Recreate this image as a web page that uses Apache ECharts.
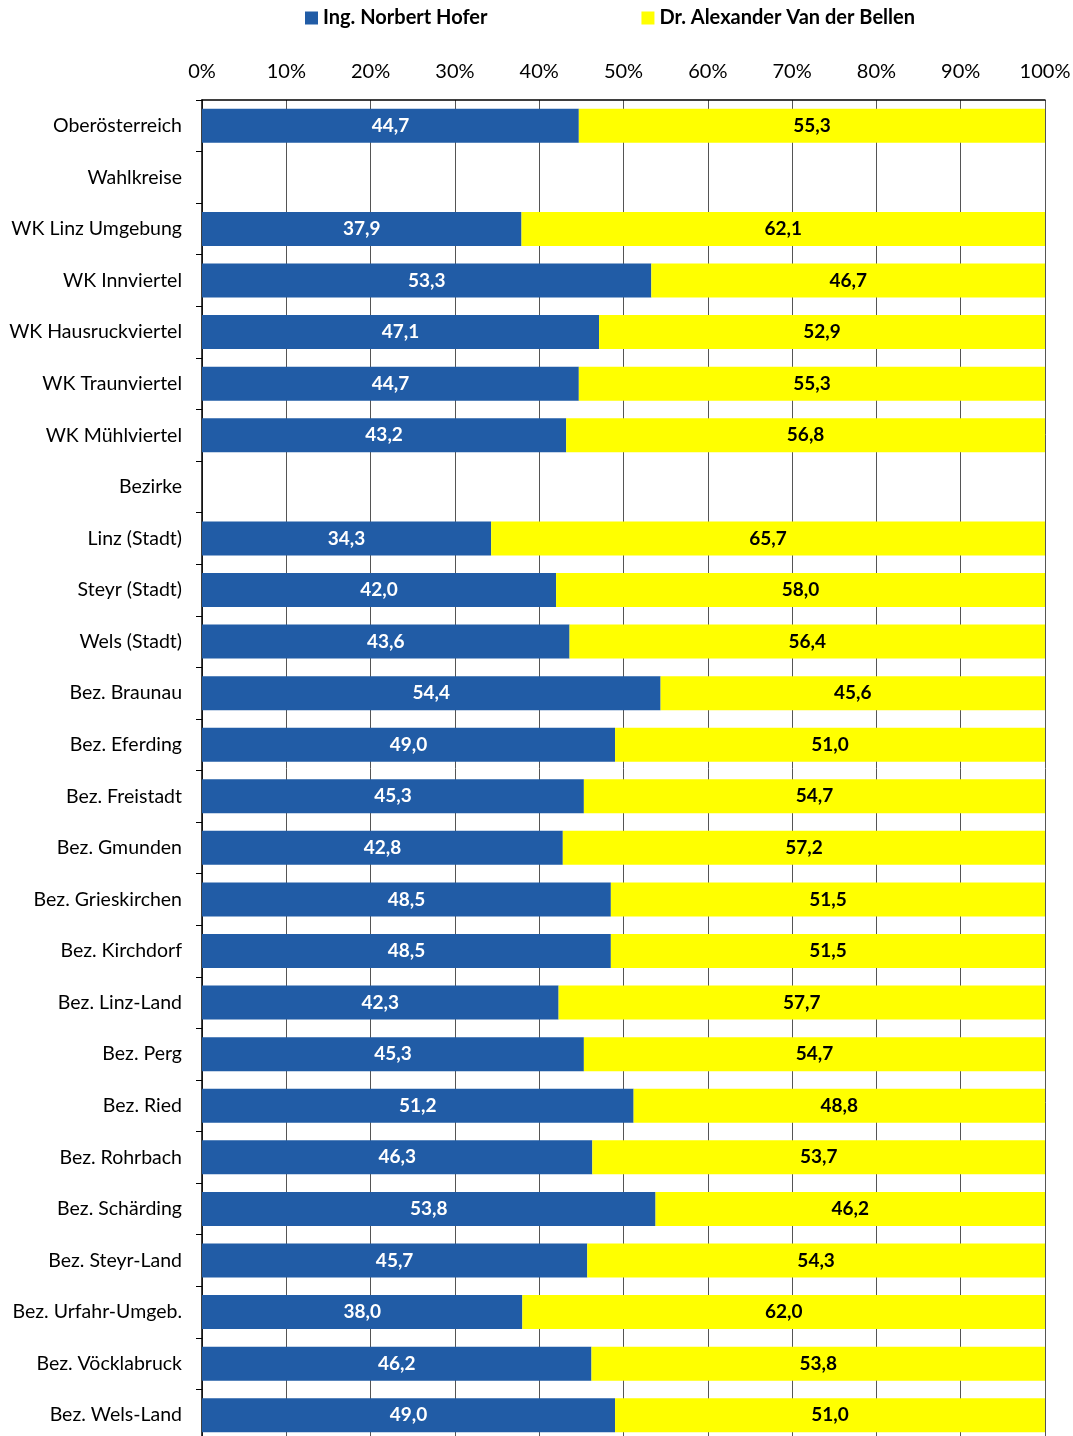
<!DOCTYPE html>
<html><head><meta charset="utf-8">
<script src="https://cdn.jsdelivr.net/npm/echarts@6/dist/echarts.min.js"></script>
<style>html,body{margin:0;padding:0;background:#fff}#c{width:1073px;height:1436px}</style>
</head><body><div id="c"></div>
<script>
const categories = ["Oberösterreich","Wahlkreise","WK Linz Umgebung","WK Innviertel","WK Hausruckviertel","WK Traunviertel","WK Mühlviertel","Bezirke","Linz (Stadt)","Steyr (Stadt)","Wels (Stadt)","Bez. Braunau","Bez. Eferding","Bez. Freistadt","Bez. Gmunden","Bez. Grieskirchen","Bez. Kirchdorf","Bez. Linz-Land","Bez. Perg","Bez. Ried","Bez. Rohrbach","Bez. Schärding","Bez. Steyr-Land","Bez. Urfahr-Umgeb.","Bez. Vöcklabruck","Bez. Wels-Land"];
const hofer = [44.7,null,37.9,53.3,47.1,44.7,43.2,null,34.3,42.0,43.6,54.4,49.0,45.3,42.8,48.5,48.5,42.3,45.3,51.2,46.3,53.8,45.7,38.0,46.2,49.0];
const vdb = [55.3,null,62.1,46.7,52.9,55.3,56.8,null,65.7,58.0,56.4,45.6,51.0,54.7,57.2,51.5,51.5,57.7,54.7,48.8,53.7,46.2,54.3,62.0,53.8,51.0];
const seriesNames = ["Ing. Norbert Hofer","Dr. Alexander Van der Bellen"];
const font = "Lato, 'Open Sans', sans-serif";
const fmt = p => p.value == null ? '' : p.value.toFixed(1).replace('.', ',');
const chart = echarts.init(document.getElementById('c'));
chart.setOption({
  animation:false,
  textStyle:{fontFamily:font},
  legend:{top:3,left:300,itemGap:154,itemWidth:13,itemHeight:13,icon:'rect',
    textStyle:{fontSize:20,fontWeight:'bold',color:'#000',fontFamily:font},
    data:seriesNames},
  grid:{left:202,top:100,width:843,height:1341,containLabel:false,outerBoundsMode:'none'},
  xAxis:{type:'value',position:'top',min:0,max:100,interval:10,
    axisLine:{show:true,lineStyle:{color:'#000',width:1.5}},
    axisTick:{show:false},
    axisLabel:{formatter:'{value}%',fontSize:20,color:'#000',margin:18,fontFamily:font},
    splitLine:{show:true,lineStyle:{color:'#555',width:1}}},
  yAxis:{type:'category',inverse:true,data:categories,
    axisLine:{show:true,lineStyle:{color:'#000',width:1.5}},
    axisTick:{show:true,length:6,inside:false,lineStyle:{color:'#000'}},
    axisLabel:{fontSize:19.5,color:'#000',margin:20,fontFamily:font}},
  series:[
    {name:seriesNames[0],type:'bar',stack:'a',data:hofer,barWidth:34,
     itemStyle:{color:'#215ca6'},
     label:{show:true,position:'inside',formatter:fmt,color:'#fff',fontWeight:'bold',fontSize:19,fontFamily:font}},
    {name:seriesNames[1],type:'bar',stack:'a',data:vdb,barWidth:34,
     itemStyle:{color:'#ffff00'},
     label:{show:true,position:'inside',formatter:fmt,color:'#000',fontWeight:'bold',fontSize:19,fontFamily:font}}
  ]
});
</script></body></html>
